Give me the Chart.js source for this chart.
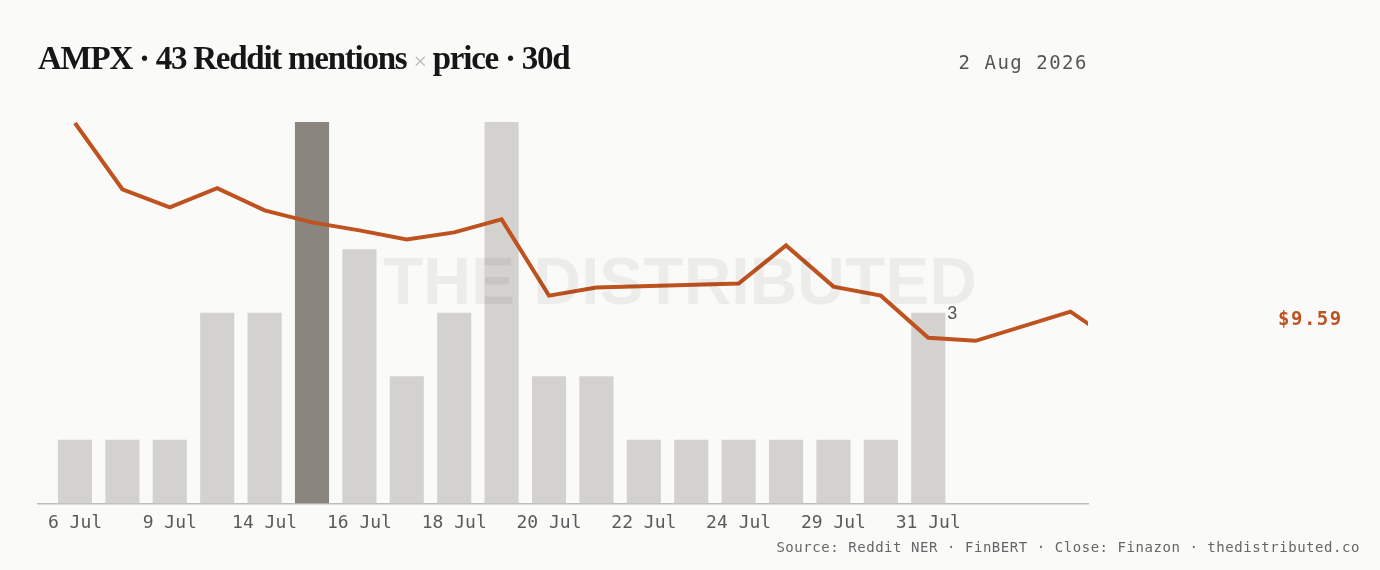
<!DOCTYPE html>
<html>
<head>
<meta charset="utf-8">
<script src="https://cdn.jsdelivr.net/npm/chart.js@4.4.1/dist/chart.umd.min.js"></script>
<style>
  html, body { margin: 0; padding: 0; background: #fafaf8; }
  body { width: 1380px; height: 570px; position: relative; overflow: hidden; }
  #title { position: absolute; left: 38px; top: 40px; font-family: "Liberation Serif", "DejaVu Serif", serif; font-weight: bold; font-size: 33px; color: #161616; letter-spacing: -1.25px; white-space: nowrap; }
  #title .x { color: #b5b5b2; font-weight: normal; font-size: 24px; }
  #date { position: absolute; right: 292px; top: 51px; font-family: "DejaVu Sans Mono", monospace; font-size: 19px; color: #555; letter-spacing: 1.5px; white-space: nowrap; }
  #source { position: absolute; right: 20px; top: 539px; font-family: "DejaVu Sans Mono", monospace; font-size: 14px; color: #666; letter-spacing: 0.55px; white-space: nowrap; }
  #wrap { position: absolute; left: 0; top: 0; width: 1380px; height: 570px; }
</style>
</head>
<body>
<div id="wrap"><canvas id="c" width="1380" height="570"></canvas></div>
<div id="title">AMPX · 43 Reddit mentions <span class="x">×</span> price · 30d</div>
<div id="date">2 Aug 2026</div>
<div id="source">Source: Reddit NER · FinBERT · Close: Finazon · thedistributed.co</div>
<script>
// ---- data ----
const days = ['6 Jul','8 Jul','9 Jul','13 Jul','14 Jul','15 Jul','16 Jul','17 Jul','18 Jul','19 Jul','20 Jul','21 Jul','22 Jul','23 Jul','24 Jul','27 Jul','29 Jul','30 Jul','31 Jul','1 Aug','2 Aug','3 Aug','4 Aug'];
const mentions = [1,1,1,3,3,6,4,2,3,6,2,2,1,1,1,1,1,1,3];
const closes = [11.54,10.88,10.70,10.89,10.67,10.55,10.47,10.38,10.45,10.58,9.82,9.90,null,null,9.94,10.32,9.91,9.82,9.40,9.37,null,9.66,9.34];
const highlightIndex = 5;
const lastClose = 9.59;
const labeledTicks = [0,2,4,6,8,10,12,14,16,18];

const BAR = '#d3d2cf', BAR_HI = '#8a857e', LINE = '#bf5320';

const overlay = {
  id: 'overlay',
  afterDatasetsDraw(chart) {
    const ctx = chart.ctx, a = chart.chartArea;
    // watermark
    ctx.save();
    ctx.font = 'bold 66px "Liberation Sans", Arial, sans-serif';
    ctx.fillStyle = 'rgba(0,0,0,0.055)';
    ctx.textAlign = 'center';
    ctx.textBaseline = 'middle';
    ctx.fillText('THE DISTRIBUTED', 680, (a.top + a.bottom) / 2 - 27);
    ctx.restore();
    // value label on last bar
    const meta = chart.getDatasetMeta(1);
    const last = meta.data[mentions.length - 1];
    ctx.save();
    ctx.font = '18px "Liberation Sans", Arial, sans-serif';
    ctx.fillStyle = '#555';
    ctx.textAlign = 'left';
    ctx.textBaseline = 'middle';
    ctx.fillText(String(mentions[mentions.length - 1]), last.x + last.width / 2 + 2, last.y + 1);
    ctx.restore();
    // last close label
    const yp = chart.scales.yp.getPixelForValue(lastClose);
    ctx.save();
    ctx.font = 'bold 19px "DejaVu Sans Mono", monospace';
    ctx.fillStyle = LINE;
    ctx.textAlign = 'left';
    ctx.textBaseline = 'middle';
    if ('letterSpacing' in ctx) ctx.letterSpacing = '1.5px';
    ctx.fillText('$' + lastClose.toFixed(2), a.right + 190, yp + 1);
    ctx.restore();
  }
};

new Chart(document.getElementById('c'), {
  type: 'bar',
  data: {
    datasets: [
      {
        type: 'line',
        data: closes.map((v, i) => ({ x: i, y: v })),
        yAxisID: 'yp',
        borderColor: LINE,
        borderWidth: 4,
        pointRadius: 0,
        tension: 0,
        spanGaps: true,
        order: 0
      },
      {
        type: 'bar',
        data: mentions.map((v, i) => ({ x: i, y: v })),
        yAxisID: 'y',
        backgroundColor: mentions.map((v, i) => i === highlightIndex ? BAR_HI : BAR),
        borderWidth: 0,
        barPercentage: 0.9,
        categoryPercentage: 0.8,
        order: 1
      }
    ]
  },
  options: {
    responsive: false,
    animation: false,
    layout: { padding: { left: 38, right: 292, top: 122, bottom: 27 } },
    plugins: { legend: { display: false }, tooltip: { enabled: false } },
    scales: {
      x: {
        type: 'linear',
        offset: false,
        min: -0.78,
        max: 21.37,
        grid: { display: false, drawTicks: false, offset: false },
        border: { display: true, color: '#bdbdbb', width: 1.5 },
        afterBuildTicks(axis) { axis.ticks = labeledTicks.map(v => ({ value: v })); },
        ticks: {
          autoSkip: false,
          maxRotation: 0,
          padding: 9,
          color: '#5a5a5a',
          font: { family: '"DejaVu Sans Mono", monospace', size: 18 },
          callback: (v) => days[v]
        }
      },
      y: { display: false, min: 0, max: 6 },
      yp: { display: false, min: 7.75, max: 11.55 }
    }
  },
  plugins: [overlay]
});
</script>
</body>
</html>
